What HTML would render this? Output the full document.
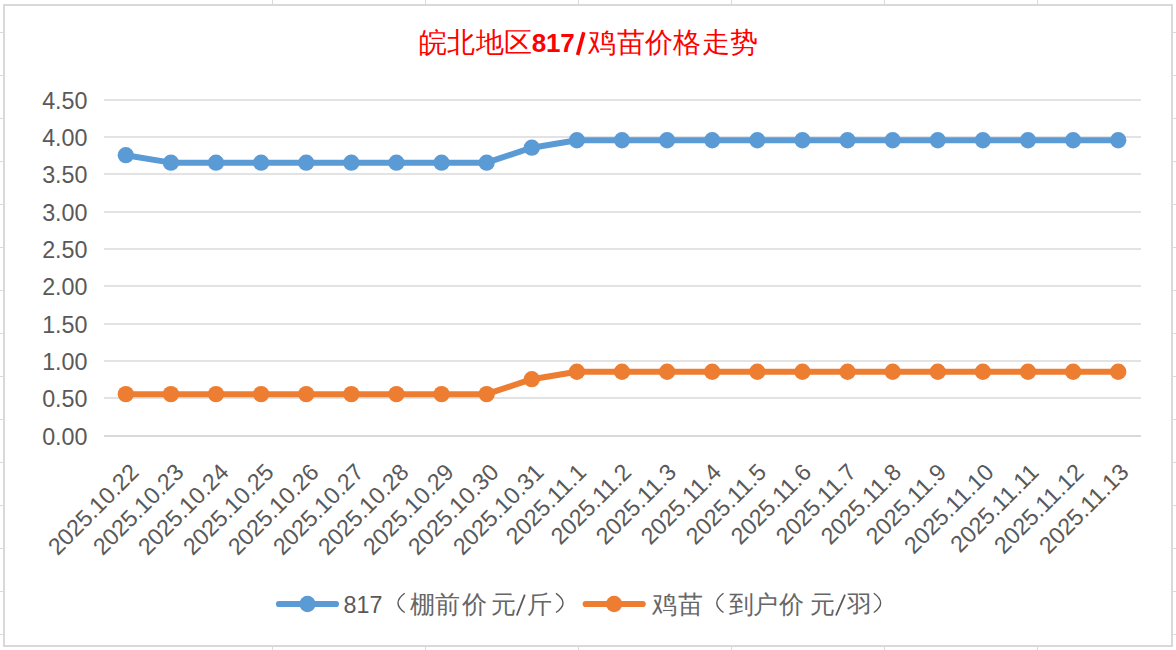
<!DOCTYPE html>
<html><head><meta charset="utf-8"><style>
html,body{margin:0;padding:0;background:#fff;width:1176px;height:650px;overflow:hidden}
svg{display:block;font-family:"Liberation Sans", sans-serif}
</style></head><body>
<svg width="1176" height="650" viewBox="0 0 1176 650">
<rect x="272" y="0" width="1" height="650" fill="#dadada"/>
<rect x="425" y="0" width="1" height="650" fill="#dadada"/>
<rect x="578" y="0" width="1" height="650" fill="#dadada"/>
<rect x="731" y="0" width="1" height="650" fill="#dadada"/>
<rect x="884" y="0" width="1" height="650" fill="#dadada"/>
<rect x="1037" y="0" width="1" height="650" fill="#dadada"/>
<rect x="0" y="32" width="1176" height="1" fill="#dadada"/>
<rect x="0" y="75" width="1176" height="1" fill="#dadada"/>
<rect x="0" y="118" width="1176" height="1" fill="#dadada"/>
<rect x="0" y="161" width="1176" height="1" fill="#dadada"/>
<rect x="0" y="204" width="1176" height="1" fill="#dadada"/>
<rect x="0" y="247" width="1176" height="1" fill="#dadada"/>
<rect x="0" y="290" width="1176" height="1" fill="#dadada"/>
<rect x="0" y="333" width="1176" height="1" fill="#dadada"/>
<rect x="0" y="376" width="1176" height="1" fill="#dadada"/>
<rect x="0" y="419" width="1176" height="1" fill="#dadada"/>
<rect x="0" y="462" width="1176" height="1" fill="#dadada"/>
<rect x="0" y="505" width="1176" height="1" fill="#dadada"/>
<rect x="0" y="548" width="1176" height="1" fill="#dadada"/>
<rect x="0" y="591" width="1176" height="1" fill="#dadada"/>
<rect x="0" y="634" width="1176" height="1" fill="#dadada"/>
<rect x="3" y="4" width="1170" height="643" fill="#d9d9d9"/>
<rect x="5" y="6" width="1166" height="639" fill="#ffffff"/>
<rect x="104" y="99" width="1037" height="2" fill="#e3e3e3"/>
<rect x="104" y="136" width="1037" height="2" fill="#e3e3e3"/>
<rect x="104" y="173" width="1037" height="2" fill="#e3e3e3"/>
<rect x="104" y="211" width="1037" height="2" fill="#e3e3e3"/>
<rect x="104" y="248" width="1037" height="2" fill="#e3e3e3"/>
<rect x="104" y="285" width="1037" height="2" fill="#e3e3e3"/>
<rect x="104" y="323" width="1037" height="2" fill="#e3e3e3"/>
<rect x="104" y="360" width="1037" height="2" fill="#e3e3e3"/>
<rect x="104" y="397" width="1037" height="2" fill="#e3e3e3"/>
<rect x="104" y="435" width="1037" height="2" fill="#d9d9d9"/>
<text x="87.5" y="108.7" text-anchor="end" font-size="23.3" fill="#595959">4.50</text>
<text x="87.5" y="145.7" text-anchor="end" font-size="23.3" fill="#595959">4.00</text>
<text x="87.5" y="182.7" text-anchor="end" font-size="23.3" fill="#595959">3.50</text>
<text x="87.5" y="220.7" text-anchor="end" font-size="23.3" fill="#595959">3.00</text>
<text x="87.5" y="257.7" text-anchor="end" font-size="23.3" fill="#595959">2.50</text>
<text x="87.5" y="294.7" text-anchor="end" font-size="23.3" fill="#595959">2.00</text>
<text x="87.5" y="332.7" text-anchor="end" font-size="23.3" fill="#595959">1.50</text>
<text x="87.5" y="369.7" text-anchor="end" font-size="23.3" fill="#595959">1.00</text>
<text x="87.5" y="406.7" text-anchor="end" font-size="23.3" fill="#595959">0.50</text>
<text x="87.5" y="444.7" text-anchor="end" font-size="23.3" fill="#595959">0.00</text>
<text transform="translate(140.10,473.7) rotate(-45)" text-anchor="end" font-size="23.3" fill="#595959">2025.10.22</text>
<text transform="translate(185.10,473.7) rotate(-45)" text-anchor="end" font-size="23.3" fill="#595959">2025.10.23</text>
<text transform="translate(230.10,473.7) rotate(-45)" text-anchor="end" font-size="23.3" fill="#595959">2025.10.24</text>
<text transform="translate(275.10,473.7) rotate(-45)" text-anchor="end" font-size="23.3" fill="#595959">2025.10.25</text>
<text transform="translate(320.10,473.7) rotate(-45)" text-anchor="end" font-size="23.3" fill="#595959">2025.10.26</text>
<text transform="translate(365.10,473.7) rotate(-45)" text-anchor="end" font-size="23.3" fill="#595959">2025.10.27</text>
<text transform="translate(410.10,473.7) rotate(-45)" text-anchor="end" font-size="23.3" fill="#595959">2025.10.28</text>
<text transform="translate(455.10,473.7) rotate(-45)" text-anchor="end" font-size="23.3" fill="#595959">2025.10.29</text>
<text transform="translate(500.10,473.7) rotate(-45)" text-anchor="end" font-size="23.3" fill="#595959">2025.10.30</text>
<text transform="translate(545.10,473.7) rotate(-45)" text-anchor="end" font-size="23.3" fill="#595959">2025.10.31</text>
<text transform="translate(587.60,473.7) rotate(-45)" text-anchor="end" font-size="23.3" fill="#595959">2025.11.1</text>
<text transform="translate(632.60,473.7) rotate(-45)" text-anchor="end" font-size="23.3" fill="#595959">2025.11.2</text>
<text transform="translate(677.60,473.7) rotate(-45)" text-anchor="end" font-size="23.3" fill="#595959">2025.11.3</text>
<text transform="translate(722.60,473.7) rotate(-45)" text-anchor="end" font-size="23.3" fill="#595959">2025.11.4</text>
<text transform="translate(767.60,473.7) rotate(-45)" text-anchor="end" font-size="23.3" fill="#595959">2025.11.5</text>
<text transform="translate(812.60,473.7) rotate(-45)" text-anchor="end" font-size="23.3" fill="#595959">2025.11.6</text>
<text transform="translate(857.60,473.7) rotate(-45)" text-anchor="end" font-size="23.3" fill="#595959">2025.11.7</text>
<text transform="translate(902.60,473.7) rotate(-45)" text-anchor="end" font-size="23.3" fill="#595959">2025.11.8</text>
<text transform="translate(947.60,473.7) rotate(-45)" text-anchor="end" font-size="23.3" fill="#595959">2025.11.9</text>
<text transform="translate(995.10,473.7) rotate(-45)" text-anchor="end" font-size="23.3" fill="#595959">2025.11.10</text>
<text transform="translate(1040.10,473.7) rotate(-45)" text-anchor="end" font-size="23.3" fill="#595959">2025.11.11</text>
<text transform="translate(1085.10,473.7) rotate(-45)" text-anchor="end" font-size="23.3" fill="#595959">2025.11.12</text>
<text transform="translate(1130.10,473.7) rotate(-45)" text-anchor="end" font-size="23.3" fill="#595959">2025.11.13</text>
<polyline points="125.80,155.19 170.91,162.65 216.02,162.65 261.13,162.65 306.24,162.65 351.35,162.65 396.46,162.65 441.57,162.65 486.68,162.65 531.79,147.72 576.90,140.25 622.01,140.25 667.12,140.25 712.23,140.25 757.34,140.25 802.45,140.25 847.56,140.25 892.67,140.25 937.78,140.25 982.89,140.25 1028.00,140.25 1073.11,140.25 1118.22,140.25" fill="none" stroke="#5b9bd5" stroke-width="6" stroke-linejoin="round" stroke-linecap="round"/><circle cx="125.80" cy="155.19" r="8.15" fill="#5b9bd5"/><circle cx="170.91" cy="162.65" r="8.15" fill="#5b9bd5"/><circle cx="216.02" cy="162.65" r="8.15" fill="#5b9bd5"/><circle cx="261.13" cy="162.65" r="8.15" fill="#5b9bd5"/><circle cx="306.24" cy="162.65" r="8.15" fill="#5b9bd5"/><circle cx="351.35" cy="162.65" r="8.15" fill="#5b9bd5"/><circle cx="396.46" cy="162.65" r="8.15" fill="#5b9bd5"/><circle cx="441.57" cy="162.65" r="8.15" fill="#5b9bd5"/><circle cx="486.68" cy="162.65" r="8.15" fill="#5b9bd5"/><circle cx="531.79" cy="147.72" r="8.15" fill="#5b9bd5"/><circle cx="576.90" cy="140.25" r="8.15" fill="#5b9bd5"/><circle cx="622.01" cy="140.25" r="8.15" fill="#5b9bd5"/><circle cx="667.12" cy="140.25" r="8.15" fill="#5b9bd5"/><circle cx="712.23" cy="140.25" r="8.15" fill="#5b9bd5"/><circle cx="757.34" cy="140.25" r="8.15" fill="#5b9bd5"/><circle cx="802.45" cy="140.25" r="8.15" fill="#5b9bd5"/><circle cx="847.56" cy="140.25" r="8.15" fill="#5b9bd5"/><circle cx="892.67" cy="140.25" r="8.15" fill="#5b9bd5"/><circle cx="937.78" cy="140.25" r="8.15" fill="#5b9bd5"/><circle cx="982.89" cy="140.25" r="8.15" fill="#5b9bd5"/><circle cx="1028.00" cy="140.25" r="8.15" fill="#5b9bd5"/><circle cx="1073.11" cy="140.25" r="8.15" fill="#5b9bd5"/><circle cx="1118.22" cy="140.25" r="8.15" fill="#5b9bd5"/>
<polyline points="125.80,394.13 170.91,394.13 216.02,394.13 261.13,394.13 306.24,394.13 351.35,394.13 396.46,394.13 441.57,394.13 486.68,394.13 531.79,379.20 576.90,371.73 622.01,371.73 667.12,371.73 712.23,371.73 757.34,371.73 802.45,371.73 847.56,371.73 892.67,371.73 937.78,371.73 982.89,371.73 1028.00,371.73 1073.11,371.73 1118.22,371.73" fill="none" stroke="#ed7d31" stroke-width="6" stroke-linejoin="round" stroke-linecap="round"/><circle cx="125.80" cy="394.13" r="8.15" fill="#ed7d31"/><circle cx="170.91" cy="394.13" r="8.15" fill="#ed7d31"/><circle cx="216.02" cy="394.13" r="8.15" fill="#ed7d31"/><circle cx="261.13" cy="394.13" r="8.15" fill="#ed7d31"/><circle cx="306.24" cy="394.13" r="8.15" fill="#ed7d31"/><circle cx="351.35" cy="394.13" r="8.15" fill="#ed7d31"/><circle cx="396.46" cy="394.13" r="8.15" fill="#ed7d31"/><circle cx="441.57" cy="394.13" r="8.15" fill="#ed7d31"/><circle cx="486.68" cy="394.13" r="8.15" fill="#ed7d31"/><circle cx="531.79" cy="379.20" r="8.15" fill="#ed7d31"/><circle cx="576.90" cy="371.73" r="8.15" fill="#ed7d31"/><circle cx="622.01" cy="371.73" r="8.15" fill="#ed7d31"/><circle cx="667.12" cy="371.73" r="8.15" fill="#ed7d31"/><circle cx="712.23" cy="371.73" r="8.15" fill="#ed7d31"/><circle cx="757.34" cy="371.73" r="8.15" fill="#ed7d31"/><circle cx="802.45" cy="371.73" r="8.15" fill="#ed7d31"/><circle cx="847.56" cy="371.73" r="8.15" fill="#ed7d31"/><circle cx="892.67" cy="371.73" r="8.15" fill="#ed7d31"/><circle cx="937.78" cy="371.73" r="8.15" fill="#ed7d31"/><circle cx="982.89" cy="371.73" r="8.15" fill="#ed7d31"/><circle cx="1028.00" cy="371.73" r="8.15" fill="#ed7d31"/><circle cx="1073.11" cy="371.73" r="8.15" fill="#ed7d31"/><circle cx="1118.22" cy="371.73" r="8.15" fill="#ed7d31"/>
<text x="418.60 446.70 476.20 503.80 588.30 617.30 645.10 673.20 701.80 729.80" y="51.5" font-size="28" font-weight="normal" fill="#ff0000">皖北地区鸡苗价格走势</text>
<text x="531.70 546.00 560.20" y="52" font-size="26" font-weight="bold" fill="#ff0000">817</text>
<line x1="577.6" y1="55" x2="583.8" y2="32.3" stroke="#ff0000" stroke-width="3.6"/>
<line x1="279" y1="604" x2="336" y2="604" stroke="#5b9bd5" stroke-width="6.2" stroke-linecap="round"/><circle cx="307.5" cy="604" r="8.15" fill="#5b9bd5"/>
<text x="343.60 356.57 369.54" y="613" font-size="23.3" font-weight="normal" fill="#595959">817</text>
<text x="409.90 434.90 461.60 491.20 527.00" y="612.5" font-size="25" font-weight="normal" fill="#666666">棚前价元斤</text>
<line x1="516.8" y1="615.5" x2="524.8" y2="594.6" stroke="#595959" stroke-width="1.8"/>
<line x1="585.7" y1="604" x2="642.7" y2="604" stroke="#ed7d31" stroke-width="6.2" stroke-linecap="round"/><circle cx="614.1" cy="604" r="8.15" fill="#ed7d31"/>
<text x="652.10 677.70 728.70 753.20 779.30 810.40 846.60" y="612.5" font-size="25" font-weight="normal" fill="#666666">鸡苗到户价元羽</text>
<line x1="836" y1="615.5" x2="845" y2="594.6" stroke="#595959" stroke-width="1.8"/>
<path d="M404.7,593.3 Q391.3,603 404.7,612.5" fill="none" stroke="#595959" stroke-width="1.4"/>
<path d="M556,593.3 Q570,603 556,612.5" fill="none" stroke="#595959" stroke-width="1.4"/>
<path d="M723.5,593.3 Q710.1,603 723.5,612.5" fill="none" stroke="#595959" stroke-width="1.4"/>
<path d="M873.8,593.3 Q887.4,603 873.8,612.5" fill="none" stroke="#595959" stroke-width="1.4"/>
</svg>
</body></html>
